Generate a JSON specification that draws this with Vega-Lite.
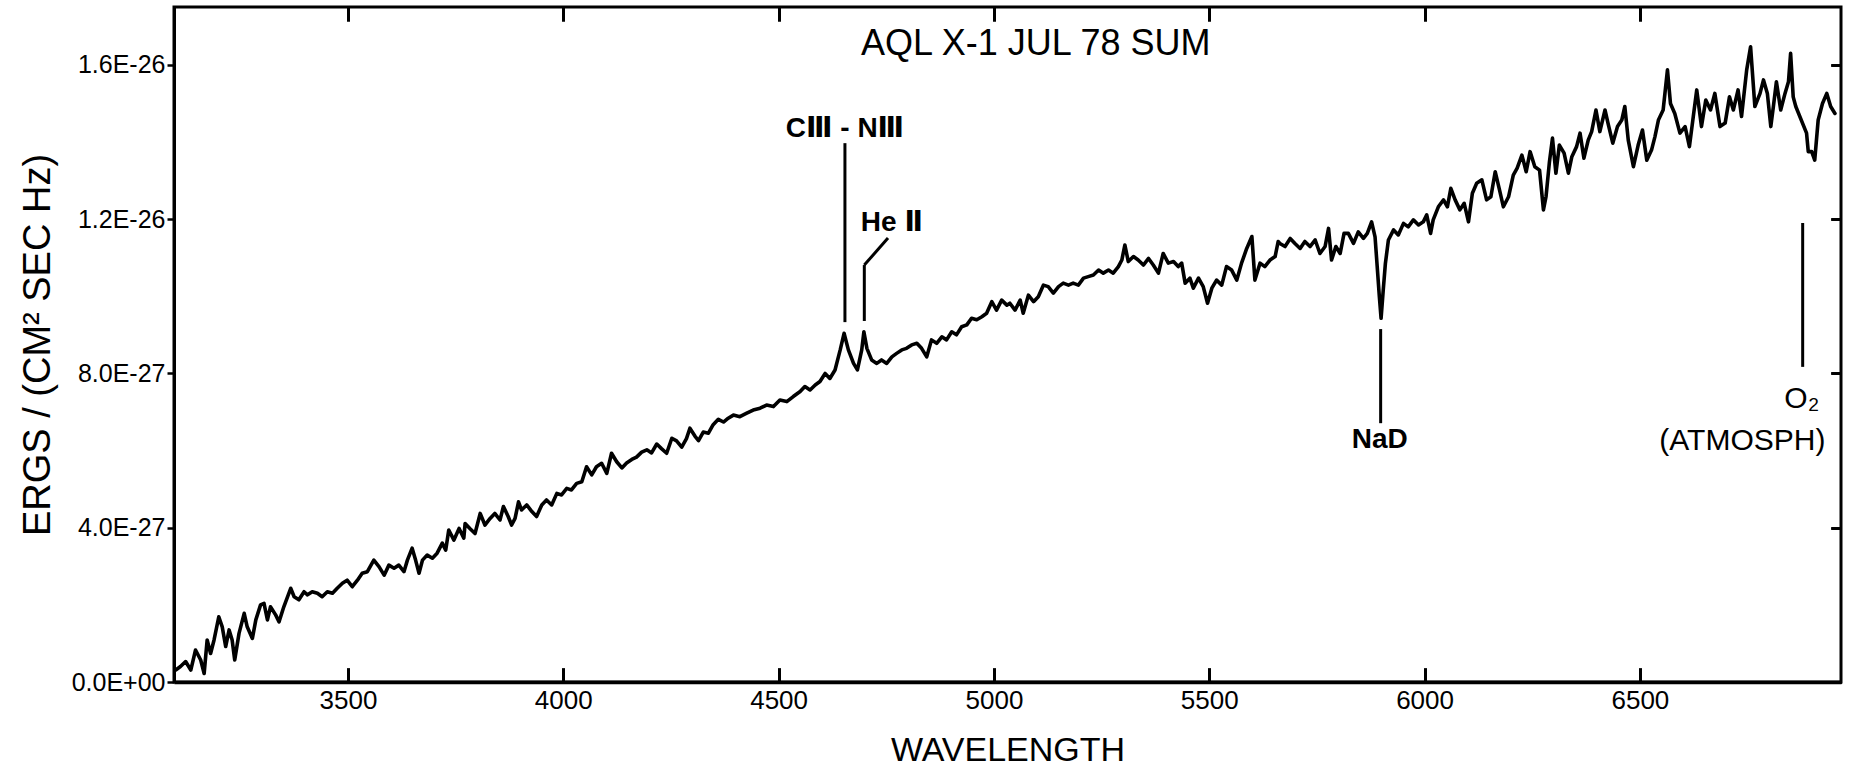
{
  "$schema": "https://vega.github.io/schema/vega-lite/v6.json",
  "width": 1667,
  "height": 675,
  "autosize": {"type": "none"},
  "padding": {"left": 174, "top": 7, "right": 13, "bottom": 95},
  "background": "white",
  "config": {
    "view": {"stroke": "black", "strokeWidth": 3},
    "font": "Liberation Sans",
    "axis": {"grid": false, "domainColor": "black", "tickColor": "black", "labelColor": "black", "titleColor": "black", "labelFont": "Liberation Sans", "titleFont": "Liberation Sans", "titleFontWeight": "normal"}
  },
  "datasets": {
    "spectrum": [
      {"wl":3100,"flux":0.31e-27},{"wl":3111,"flux":0.40e-27},{"wl":3123,"flux":0.53e-27},{"wl":3135,"flux":0.31e-27},{"wl":3146,"flux":0.83e-27},{"wl":3158,"flux":0.57e-27},{"wl":3166,"flux":0.22e-27},{"wl":3173,"flux":1.09e-27},{"wl":3181,"flux":0.74e-27},{"wl":3189,"flux":1.09e-27},{"wl":3200,"flux":1.69e-27},{"wl":3208,"flux":1.43e-27},{"wl":3216,"flux":0.92e-27},{"wl":3224,"flux":1.35e-27},{"wl":3231,"flux":1.09e-27},{"wl":3237,"flux":0.57e-27},{"wl":3247,"flux":1.26e-27},{"wl":3259,"flux":1.78e-27},{"wl":3266,"flux":1.43e-27},{"wl":3278,"flux":1.13e-27},{"wl":3286,"flux":1.61e-27},{"wl":3297,"flux":2.00e-27},{"wl":3305,"flux":2.04e-27},{"wl":3313,"flux":1.61e-27},{"wl":3320,"flux":1.95e-27},{"wl":3332,"flux":1.74e-27},{"wl":3340,"flux":1.56e-27},{"wl":3351,"flux":1.95e-27},{"wl":3367,"flux":2.43e-27},{"wl":3375,"flux":2.21e-27},{"wl":3386,"flux":2.13e-27},{"wl":3398,"flux":2.34e-27},{"wl":3406,"flux":2.26e-27},{"wl":3417,"flux":2.34e-27},{"wl":3429,"flux":2.30e-27},{"wl":3440,"flux":2.21e-27},{"wl":3452,"flux":2.34e-27},{"wl":3464,"flux":2.30e-27},{"wl":3475,"flux":2.43e-27},{"wl":3487,"flux":2.56e-27},{"wl":3498,"flux":2.64e-27},{"wl":3510,"flux":2.47e-27},{"wl":3522,"flux":2.64e-27},{"wl":3533,"flux":2.82e-27},{"wl":3545,"flux":2.86e-27},{"wl":3560,"flux":3.16e-27},{"wl":3572,"flux":2.99e-27},{"wl":3584,"flux":2.77e-27},{"wl":3595,"flux":3.03e-27},{"wl":3607,"flux":2.95e-27},{"wl":3618,"flux":3.03e-27},{"wl":3630,"flux":2.86e-27},{"wl":3638,"flux":3.16e-27},{"wl":3649,"flux":3.47e-27},{"wl":3657,"flux":3.16e-27},{"wl":3665,"flux":2.82e-27},{"wl":3673,"flux":3.16e-27},{"wl":3684,"flux":3.29e-27},{"wl":3696,"flux":3.21e-27},{"wl":3707,"flux":3.34e-27},{"wl":3719,"flux":3.60e-27},{"wl":3727,"flux":3.42e-27},{"wl":3734,"flux":3.94e-27},{"wl":3746,"flux":3.68e-27},{"wl":3758,"flux":3.98e-27},{"wl":3769,"flux":3.73e-27},
      {"wl":3772,"flux":4.11e-27},{"wl":3783,"flux":3.98e-27},{"wl":3795,"flux":3.85e-27},{"wl":3807,"flux":4.37e-27},{"wl":3818,"flux":4.07e-27},{"wl":3830,"flux":4.24e-27},{"wl":3841,"flux":4.37e-27},{"wl":3853,"flux":4.20e-27},{"wl":3861,"flux":4.55e-27},{"wl":3872,"flux":4.29e-27},{"wl":3880,"flux":4.07e-27},{"wl":3888,"flux":4.24e-27},{"wl":3896,"flux":4.67e-27},{"wl":3903,"flux":4.46e-27},{"wl":3915,"flux":4.59e-27},{"wl":3927,"flux":4.42e-27},{"wl":3938,"flux":4.29e-27},{"wl":3950,"flux":4.59e-27},{"wl":3961,"flux":4.72e-27},{"wl":3973,"flux":4.59e-27},{"wl":3985,"flux":4.89e-27},{"wl":3996,"flux":4.85e-27},{"wl":4008,"flux":5.02e-27},{"wl":4019,"flux":4.98e-27},{"wl":4031,"flux":5.15e-27},{"wl":4043,"flux":5.19e-27},{"wl":4054,"flux":5.58e-27},{"wl":4066,"flux":5.37e-27},{"wl":4077,"flux":5.58e-27},{"wl":4089,"flux":5.67e-27},{"wl":4101,"flux":5.41e-27},{"wl":4112,"flux":5.93e-27},{"wl":4124,"flux":5.71e-27},{"wl":4136,"flux":5.55e-27},{"wl":4147,"flux":5.68e-27},{"wl":4159,"flux":5.77e-27},{"wl":4170,"flux":5.83e-27},{"wl":4182,"flux":5.96e-27},{"wl":4194,"flux":6.02e-27},{"wl":4205,"flux":5.94e-27},{"wl":4217,"flux":6.17e-27},{"wl":4228,"flux":6.05e-27},{"wl":4240,"flux":5.93e-27},{"wl":4252,"flux":6.32e-27},{"wl":4263,"flux":6.25e-27},{"wl":4275,"flux":6.09e-27},{"wl":4286,"flux":6.31e-27},{"wl":4294,"flux":6.58e-27},{"wl":4306,"flux":6.37e-27},{"wl":4314,"flux":6.26e-27},{"wl":4325,"flux":6.48e-27},{"wl":4337,"flux":6.45e-27},{"wl":4348,"flux":6.67e-27},{"wl":4360,"flux":6.81e-27},{"wl":4372,"flux":6.74e-27},{"wl":4383,"flux":6.84e-27},{"wl":4395,"flux":6.92e-27},{"wl":4410,"flux":6.88e-27},
      {"wl":4426,"flux":6.97e-27},{"wl":4441,"flux":7.05e-27},{"wl":4457,"flux":7.10e-27},{"wl":4472,"flux":7.18e-27},{"wl":4488,"flux":7.14e-27},{"wl":4503,"flux":7.31e-27},{"wl":4519,"flux":7.27e-27},{"wl":4534,"flux":7.40e-27},{"wl":4550,"flux":7.53e-27},{"wl":4561,"flux":7.66e-27},{"wl":4573,"flux":7.57e-27},{"wl":4585,"flux":7.70e-27},{"wl":4596,"flux":7.79e-27},{"wl":4608,"flux":8.00e-27},{"wl":4619,"flux":7.87e-27},{"wl":4631,"flux":8.09e-27},{"wl":4643,"flux":8.61e-27},{"wl":4652,"flux":9.04e-27},{"wl":4662,"flux":8.61e-27},{"wl":4674,"flux":8.26e-27},{"wl":4683,"flux":8.09e-27},{"wl":4693,"flux":8.61e-27},{"wl":4698,"flux":9.08e-27},{"wl":4705,"flux":8.65e-27},{"wl":4716,"flux":8.35e-27},{"wl":4728,"flux":8.26e-27},{"wl":4739,"flux":8.35e-27},{"wl":4751,"flux":8.26e-27},{"wl":4763,"flux":8.43e-27},{"wl":4774,"flux":8.52e-27},{"wl":4786,"flux":8.61e-27},{"wl":4797,"flux":8.65e-27},{"wl":4809,"flux":8.74e-27},{"wl":4821,"flux":8.78e-27},{"wl":4832,"flux":8.65e-27},{"wl":4844,"flux":8.43e-27},{"wl":4855,"flux":8.87e-27},{"wl":4867,"flux":8.78e-27},{"wl":4879,"flux":8.95e-27},{"wl":4890,"flux":8.87e-27},{"wl":4902,"flux":9.08e-27},{"wl":4913,"flux":9.00e-27},{"wl":4925,"flux":9.21e-27},{"wl":4937,"flux":9.26e-27},{"wl":4948,"flux":9.43e-27},{"wl":4960,"flux":9.39e-27},{"wl":4972,"flux":9.47e-27},{"wl":4983,"flux":9.56e-27},{"wl":4995,"flux":9.86e-27},{"wl":5006,"flux":9.64e-27},{"wl":5018,"flux":9.90e-27},{"wl":5030,"flux":9.77e-27},
      {"wl":5037,"flux":9.82e-27},{"wl":5049,"flux":9.64e-27},{"wl":5061,"flux":9.90e-27},{"wl":5068,"flux":9.56e-27},{"wl":5080,"flux":10.03e-27},{"wl":5092,"flux":9.86e-27},{"wl":5103,"flux":9.99e-27},{"wl":5115,"flux":10.29e-27},{"wl":5126,"flux":10.25e-27},{"wl":5138,"flux":10.08e-27},{"wl":5150,"flux":10.25e-27},{"wl":5161,"flux":10.34e-27},{"wl":5173,"flux":10.29e-27},{"wl":5184,"flux":10.34e-27},{"wl":5196,"flux":10.29e-27},{"wl":5208,"flux":10.47e-27},{"wl":5219,"flux":10.51e-27},{"wl":5231,"flux":10.55e-27},{"wl":5243,"flux":10.68e-27},{"wl":5254,"flux":10.60e-27},{"wl":5266,"flux":10.68e-27},{"wl":5277,"flux":10.60e-27},{"wl":5289,"flux":10.77e-27},{"wl":5297,"flux":10.94e-27},{"wl":5304,"flux":11.33e-27},{"wl":5312,"flux":10.90e-27},{"wl":5324,"flux":11.03e-27},{"wl":5335,"flux":10.94e-27},{"wl":5347,"flux":10.81e-27},{"wl":5359,"flux":10.98e-27},{"wl":5370,"flux":10.81e-27},{"wl":5382,"flux":10.60e-27},{"wl":5393,"flux":11.11e-27},{"wl":5405,"flux":10.86e-27},{"wl":5417,"flux":10.90e-27},{"wl":5428,"flux":10.77e-27},{"wl":5436,"flux":10.86e-27},{"wl":5444,"flux":10.34e-27},{"wl":5455,"flux":10.47e-27},{"wl":5463,"flux":10.21e-27},{"wl":5475,"flux":10.47e-27},{"wl":5486,"flux":10.25e-27},{"wl":5496,"flux":9.82e-27},{"wl":5506,"flux":10.21e-27},{"wl":5517,"flux":10.42e-27},{"wl":5529,"flux":10.29e-27},{"wl":5540,"flux":10.77e-27},{"wl":5552,"flux":10.68e-27},{"wl":5564,"flux":10.42e-27},{"wl":5575,"flux":10.86e-27},{"wl":5587,"flux":11.24e-27},{"wl":5599,"flux":11.55e-27},{"wl":5606,"flux":10.42e-27},{"wl":5618,"flux":10.86e-27},{"wl":5629,"flux":10.77e-27},{"wl":5641,"flux":10.94e-27},{"wl":5653,"flux":11.03e-27},{"wl":5660,"flux":11.42e-27},
      {"wl":5664,"flux":11.37e-27},{"wl":5676,"flux":11.29e-27},{"wl":5688,"flux":11.50e-27},{"wl":5699,"flux":11.37e-27},{"wl":5711,"flux":11.24e-27},{"wl":5722,"flux":11.42e-27},{"wl":5734,"flux":11.29e-27},{"wl":5746,"flux":11.46e-27},{"wl":5757,"flux":11.11e-27},{"wl":5769,"flux":11.29e-27},{"wl":5777,"flux":11.76e-27},{"wl":5784,"flux":10.94e-27},{"wl":5794,"flux":11.29e-27},{"wl":5804,"flux":11.11e-27},{"wl":5813,"flux":11.63e-27},{"wl":5823,"flux":11.63e-27},{"wl":5835,"flux":11.37e-27},{"wl":5846,"flux":11.67e-27},{"wl":5858,"flux":11.50e-27},{"wl":5867,"flux":11.63e-27},{"wl":5877,"flux":11.93e-27},{"wl":5885,"flux":11.54e-27},{"wl":5890,"flux":10.77e-27},{"wl":5895,"flux":9.99e-27},{"wl":5899,"flux":9.43e-27},{"wl":5904,"flux":10.16e-27},{"wl":5909,"flux":10.85e-27},{"wl":5916,"flux":11.46e-27},{"wl":5928,"flux":11.72e-27},{"wl":5939,"flux":11.59e-27},{"wl":5951,"flux":11.89e-27},{"wl":5962,"flux":11.80e-27},{"wl":5974,"flux":11.98e-27},{"wl":5986,"flux":11.85e-27},{"wl":5997,"flux":11.93e-27},{"wl":6005,"flux":12.11e-27},{"wl":6014,"flux":11.63e-27},{"wl":6020,"flux":11.98e-27},{"wl":6032,"flux":12.32e-27},{"wl":6044,"flux":12.50e-27},{"wl":6053,"flux":12.32e-27},{"wl":6061,"flux":12.80e-27},{"wl":6071,"flux":12.50e-27},{"wl":6082,"flux":12.24e-27},{"wl":6092,"flux":12.41e-27},{"wl":6102,"flux":11.93e-27},{"wl":6111,"flux":12.67e-27},{"wl":6121,"flux":12.93e-27},{"wl":6133,"flux":13.02e-27},{"wl":6144,"flux":12.50e-27},{"wl":6154,"flux":12.58e-27},{"wl":6164,"flux":13.23e-27},{"wl":6174,"flux":12.76e-27},{"wl":6183,"flux":12.32e-27},{"wl":6195,"flux":12.58e-27},{"wl":6206,"flux":13.14e-27},{"wl":6215,"flux":13.32e-27},{"wl":6226,"flux":13.66e-27},{"wl":6236,"flux":13.23e-27},{"wl":6245,"flux":13.75e-27},{"wl":6256,"flux":13.36e-27},{"wl":6267,"flux":13.27e-27},{"wl":6276,"flux":12.24e-27},{"wl":6282,"flux":12.58e-27},{"wl":6290,"flux":13.49e-27},{"wl":6297,"flux":14.10e-27},{"wl":6305,"flux":13.19e-27},{"wl":6313,"flux":13.92e-27},
      {"wl":6324,"flux":13.71e-27},{"wl":6334,"flux":13.19e-27},{"wl":6342,"flux":13.62e-27},{"wl":6353,"flux":13.88e-27},{"wl":6361,"flux":14.23e-27},{"wl":6370,"flux":13.58e-27},{"wl":6380,"flux":14.05e-27},{"wl":6388,"flux":14.27e-27},{"wl":6398,"flux":14.83e-27},{"wl":6407,"flux":14.27e-27},{"wl":6419,"flux":14.83e-27},{"wl":6427,"flux":14.44e-27},{"wl":6437,"flux":13.97e-27},{"wl":6448,"flux":14.40e-27},{"wl":6458,"flux":14.57e-27},{"wl":6465,"flux":14.92e-27},{"wl":6473,"flux":14.05e-27},{"wl":6485,"flux":13.36e-27},{"wl":6496,"flux":13.92e-27},{"wl":6506,"flux":14.31e-27},{"wl":6516,"flux":13.53e-27},{"wl":6527,"flux":13.79e-27},{"wl":6535,"flux":14.14e-27},{"wl":6543,"flux":14.57e-27},{"wl":6554,"flux":14.83e-27},{"wl":6564,"flux":15.87e-27},{"wl":6571,"flux":15.00e-27},{"wl":6581,"flux":14.74e-27},{"wl":6593,"flux":14.23e-27},{"wl":6605,"flux":14.40e-27},{"wl":6615,"flux":13.88e-27},{"wl":6624,"flux":14.66e-27},{"wl":6632,"flux":15.35e-27},{"wl":6643,"flux":14.40e-27},{"wl":6653,"flux":15.09e-27},{"wl":6664,"flux":14.83e-27},{"wl":6674,"flux":15.26e-27},{"wl":6686,"flux":14.40e-27},{"wl":6698,"flux":14.49e-27},{"wl":6708,"flux":15.17e-27},{"wl":6717,"flux":14.83e-27},{"wl":6728,"flux":15.35e-27},{"wl":6736,"flux":14.66e-27},{"wl":6748,"flux":15.87e-27},{"wl":6757,"flux":16.47e-27},{"wl":6767,"flux":14.92e-27},{"wl":6779,"flux":15.26e-27},{"wl":6787,"flux":15.61e-27},{"wl":6796,"flux":15.26e-27},{"wl":6804,"flux":14.40e-27},{"wl":6810,"flux":14.92e-27},{"wl":6817,"flux":15.56e-27},{"wl":6827,"flux":14.83e-27},{"wl":6837,"flux":15.26e-27},{"wl":6845,"flux":15.56e-27},{"wl":6850,"flux":16.30e-27},{"wl":6856,"flux":15.17e-27},{"wl":6862,"flux":14.92e-27},{"wl":6887,"flux":14.23e-27},{"wl":6891,"flux":13.75e-27},{"wl":6899,"flux":13.75e-27},{"wl":6906,"flux":13.53e-27},{"wl":6914,"flux":14.57e-27},{"wl":6924,"flux":15.00e-27},{"wl":6934,"flux":15.26e-27},{"wl":6943,"flux":14.92e-27},{"wl":6953,"flux":14.74e-27}
    ],
    "leaders": [
      {"wl":4654,"flux":13.97e-27,"wl2":4654,"flux2":9.33e-27},
      {"wl":4754,"flux":11.51e-27,"wl2":4699,"flux2":10.81e-27},
      {"wl":4699,"flux":10.81e-27,"wl2":4699,"flux2":9.36e-27},
      {"wl":5898,"flux":9.15e-27,"wl2":5898,"flux2":6.71e-27},
      {"wl":6878,"flux":11.90e-27,"wl2":6878,"flux2":8.17e-27}
    ],
    "boldLabels": [
      {"label":"CⅢ - NⅢ","wl":4654,"flux":14.34e-27},
      {"label":"He Ⅱ","wl":4763,"flux":11.90e-27},
      {"label":"NaD","wl":5896,"flux":6.27e-27}
    ],
    "plainLabels": [
      {"label":"O₂","wl":6876,"flux":7.34e-27},
      {"label":"(ATMOSPH)","wl":6738,"flux":6.25e-27}
    ],
    "titleLabel": [
      {"label":"AQL X-1 JUL 78 SUM","wl":5097,"flux":16.54e-27}
    ]
  },
  "resolve": {"axis": {"x": "independent", "y": "independent"}},
  "layer": [
    {
      "data": {"name": "spectrum"},
      "mark": {"type": "line", "color": "black", "strokeWidth": 3.6, "strokeJoin": "round", "strokeCap": "round"},
      "encoding": {
        "x": {"field": "wl", "type": "quantitative",
              "scale": {"domain": [3096, 6967], "nice": false, "zero": false},
              "axis": {"orient": "bottom", "values": [3500,4000,4500,5000,5500,6000,6500], "format": "d",
                       "tickSize": -14, "tickWidth": 3, "tickColor": "#000000", "domainWidth": 3.5,
                       "labelFontSize": 26, "labelPadding": 19,
                       "title": "WAVELENGTH", "titleFontSize": 34, "titlePadding": 20}},
        "y": {"field": "flux", "type": "quantitative",
              "scale": {"domain": [0, 1.75e-26], "nice": false, "zero": false},
              "axis": {"orient": "left", "values": [0, 4e-27, 8e-27, 1.2e-26, 1.6e-26],
                       "labelExpr": "datum.value < 1e-28 ? '0.0E+00' : upper(format(datum.value, '.1e'))",
                       "tickSize": 7, "tickWidth": 2.5, "tickColor": "#000000", "domainWidth": 3,
                       "labelFontSize": 25, "labelPadding": 2,
                       "title": "ERGS / (CM² SEC Hz)", "titleFontSize": 38, "titlePadding": 14}}
      }
    },
    {
      "data": {"name": "leaders"},
      "mark": {"type": "rule", "color": "black", "strokeWidth": 3},
      "encoding": {
        "x": {"field": "wl", "type": "quantitative",
              "scale": {"domain": [3096, 6967], "nice": false, "zero": false},
              "axis": {"orient": "top", "values": [3500,4000,4500,5000,5500,6000,6500], "labels": false, "domain": false,
                       "offset": -14, "tickSize": 14, "tickWidth": 3, "tickColor": "#000000", "title": null}},
        "y": {"field": "flux", "type": "quantitative",
              "scale": {"domain": [0, 1.75e-26], "nice": false, "zero": false},
              "axis": {"orient": "right", "values": [0, 4e-27, 8e-27, 1.2e-26, 1.6e-26], "labels": false, "domain": false,
                       "tickSize": -10, "tickWidth": 2.5, "tickColor": "#000000", "title": null}},
        "x2": {"field": "wl2"},
        "y2": {"field": "flux2"}
      }
    },
    {
      "data": {"name": "boldLabels"},
      "mark": {"type": "text", "color": "black", "fontSize": 28, "fontWeight": "bold", "align": "center", "baseline": "middle", "font": "Liberation Sans, DejaVu Sans"},
      "encoding": {
        "x": {"field": "wl", "type": "quantitative",
              "axis": {"orient": "bottom", "values": [3500,4000,4500,5000,5500,6000,6500], "labels": false, "domain": false,
                       "offset": -14, "tickSize": 14, "tickWidth": 3, "tickColor": "#000000", "title": null}},
        "y": {"field": "flux", "type": "quantitative",
              "axis": {"orient": "right", "values": [0, 4e-27, 8e-27, 1.2e-26, 1.6e-26], "labels": false, "domain": false,
                       "tickSize": -10, "tickWidth": 2.5, "tickColor": "#000000", "title": null}},
        "text": {"field": "label"}
      }
    },
    {
      "data": {"name": "plainLabels"},
      "mark": {"type": "text", "color": "black", "fontSize": 30, "align": "center", "baseline": "middle", "font": "Liberation Sans, DejaVu Sans"},
      "encoding": {
        "x": {"field": "wl", "type": "quantitative",
              "axis": {"orient": "top", "values": [3500,4000,4500,5000,5500,6000,6500], "labels": false, "domain": false,
                       "offset": -14, "tickSize": 14, "tickWidth": 3, "tickColor": "#000000", "title": null}},
        "y": {"field": "flux", "type": "quantitative",
              "axis": {"orient": "right", "values": [0, 4e-27, 8e-27, 1.2e-26, 1.6e-26], "labels": false, "domain": false,
                       "tickSize": -10, "tickWidth": 2.5, "tickColor": "#000000", "title": null}},
        "text": {"field": "label"}
      }
    },
    {
      "data": {"name": "titleLabel"},
      "mark": {"type": "text", "color": "black", "fontSize": 36, "align": "center", "baseline": "middle", "font": "Liberation Sans"},
      "encoding": {
        "x": {"field": "wl", "type": "quantitative",
              "axis": {"orient": "bottom", "values": [3500,4000,4500,5000,5500,6000,6500], "labels": false, "domain": false,
                       "offset": -14, "tickSize": 14, "tickWidth": 3, "tickColor": "#000000", "title": null}},
        "y": {"field": "flux", "type": "quantitative",
              "axis": {"orient": "right", "values": [0, 4e-27, 8e-27, 1.2e-26, 1.6e-26], "labels": false, "domain": false,
                       "tickSize": -10, "tickWidth": 2.5, "tickColor": "#000000", "title": null}},
        "text": {"field": "label"}
      }
    }
  ]
}
